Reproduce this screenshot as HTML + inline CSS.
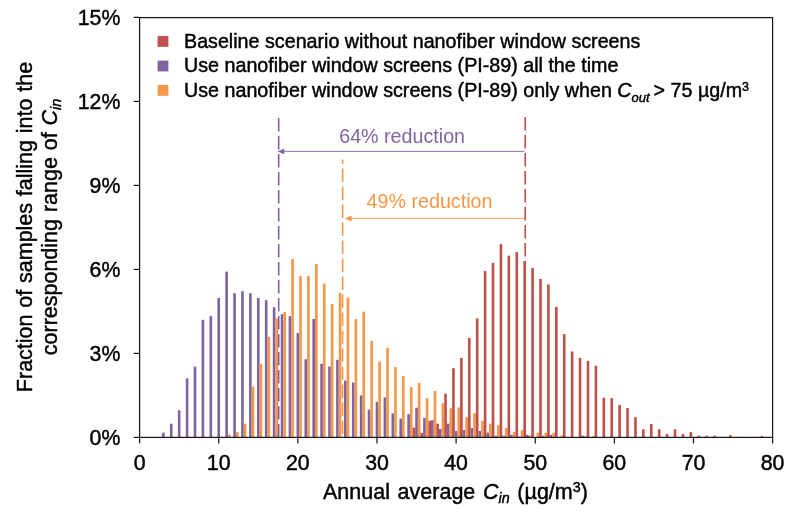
<!DOCTYPE html>
<html><head><meta charset="utf-8"><title>Chart</title>
<style>
html,body{margin:0;padding:0;background:#fff;}
svg{display:block;font-family:"Liberation Sans",Arial,sans-serif;fill:#000;}
text{stroke:#000;stroke-width:.45px;stroke-linejoin:round;}
text.p,text.o{stroke:none;}
</style></head><body>
<svg width="800" height="522" viewBox="0 0 800 522">
<rect width="800" height="522" fill="#fff"/>
<g fill="#8064A2"><rect x="162.02" y="432.64" width="2.64" height="4.76"/><rect x="169.93" y="423.68" width="2.64" height="13.72"/><rect x="177.84" y="410.24" width="2.64" height="27.16"/><rect x="185.76" y="378.32" width="2.64" height="59.08"/><rect x="193.67" y="366.56" width="2.64" height="70.84"/><rect x="201.58" y="319.80" width="2.64" height="117.60"/><rect x="209.49" y="316.16" width="2.64" height="121.24"/><rect x="217.41" y="297.96" width="2.64" height="139.44"/><rect x="225.32" y="271.64" width="2.64" height="165.76"/><rect x="233.23" y="293.20" width="2.64" height="144.20"/><rect x="241.14" y="291.24" width="2.64" height="146.16"/><rect x="249.06" y="293.20" width="2.64" height="144.20"/><rect x="256.97" y="297.96" width="2.64" height="139.44"/><rect x="264.88" y="300.20" width="2.64" height="137.20"/><rect x="272.79" y="307.20" width="2.64" height="130.20"/><rect x="280.71" y="314.20" width="2.64" height="123.20"/><rect x="288.62" y="316.16" width="2.64" height="121.24"/><rect x="296.53" y="332.96" width="2.64" height="104.44"/><rect x="304.44" y="359.28" width="2.64" height="78.12"/><rect x="312.36" y="318.96" width="2.64" height="118.44"/><rect x="320.27" y="363.76" width="2.64" height="73.64"/><rect x="328.18" y="366.56" width="2.64" height="70.84"/><rect x="336.09" y="359.84" width="2.64" height="77.56"/><rect x="344.01" y="380.56" width="2.64" height="56.84"/><rect x="351.92" y="382.52" width="2.64" height="54.88"/><rect x="359.83" y="395.40" width="2.64" height="42.00"/><rect x="367.74" y="409.68" width="2.64" height="27.72"/><rect x="375.66" y="401.84" width="2.64" height="35.56"/><rect x="383.57" y="397.36" width="2.64" height="40.04"/><rect x="391.48" y="413.32" width="2.64" height="24.08"/><rect x="399.39" y="418.64" width="2.64" height="18.76"/><rect x="407.31" y="414.16" width="2.64" height="23.24"/><rect x="415.22" y="407.72" width="2.64" height="29.68"/><rect x="423.13" y="418.08" width="2.64" height="19.32"/><rect x="431.04" y="420.04" width="2.64" height="17.36"/><rect x="438.96" y="429.00" width="2.64" height="8.40"/><rect x="446.87" y="423.68" width="2.64" height="13.72"/><rect x="454.78" y="430.96" width="2.64" height="6.44"/><rect x="462.69" y="430.12" width="2.64" height="7.28"/><rect x="470.61" y="427.88" width="2.64" height="9.52"/><rect x="478.52" y="430.96" width="2.64" height="6.44"/><rect x="486.43" y="432.64" width="2.64" height="4.76"/><rect x="494.34" y="435.72" width="2.64" height="1.68"/><rect x="502.26" y="435.72" width="2.64" height="1.68"/><rect x="510.17" y="434.88" width="2.64" height="2.52"/><rect x="518.08" y="436.56" width="2.64" height="0.84"/><rect x="525.99" y="434.88" width="2.64" height="2.52"/><rect x="541.82" y="435.72" width="2.64" height="1.68"/><rect x="549.73" y="434.88" width="2.64" height="2.52"/><rect x="581.38" y="435.72" width="2.64" height="1.68"/></g>
<g fill="#F79646"><rect x="227.96" y="434.60" width="2.64" height="2.80"/><rect x="235.87" y="432.08" width="2.64" height="5.32"/><rect x="243.78" y="423.68" width="2.64" height="13.72"/><rect x="251.69" y="386.44" width="2.64" height="50.96"/><rect x="259.61" y="363.76" width="2.64" height="73.64"/><rect x="267.52" y="336.88" width="2.64" height="100.52"/><rect x="275.43" y="318.40" width="2.64" height="119.00"/><rect x="283.34" y="311.96" width="2.64" height="125.44"/><rect x="291.26" y="259.04" width="2.64" height="178.36"/><rect x="299.17" y="275.84" width="2.64" height="161.56"/><rect x="307.08" y="275.84" width="2.64" height="161.56"/><rect x="314.99" y="264.08" width="2.64" height="173.32"/><rect x="322.91" y="283.68" width="2.64" height="153.72"/><rect x="330.82" y="303.84" width="2.64" height="133.56"/><rect x="338.73" y="292.92" width="2.64" height="144.48"/><rect x="346.64" y="297.40" width="2.64" height="140.00"/><rect x="354.56" y="318.96" width="2.64" height="118.44"/><rect x="362.47" y="311.68" width="2.64" height="125.72"/><rect x="370.38" y="340.80" width="2.64" height="96.60"/><rect x="378.29" y="361.52" width="2.64" height="75.88"/><rect x="386.21" y="347.80" width="2.64" height="89.60"/><rect x="394.12" y="367.12" width="2.64" height="70.28"/><rect x="402.03" y="376.08" width="2.64" height="61.32"/><rect x="409.94" y="387.00" width="2.64" height="50.40"/><rect x="417.86" y="382.80" width="2.64" height="54.60"/><rect x="425.77" y="398.20" width="2.64" height="39.20"/><rect x="433.68" y="390.92" width="2.64" height="46.48"/><rect x="441.59" y="403.24" width="2.64" height="34.16"/><rect x="449.51" y="408.28" width="2.64" height="29.12"/><rect x="457.42" y="407.44" width="2.64" height="29.96"/><rect x="465.33" y="417.24" width="2.64" height="20.16"/><rect x="473.24" y="413.32" width="2.64" height="24.08"/><rect x="481.16" y="420.88" width="2.64" height="16.52"/><rect x="489.07" y="423.68" width="2.64" height="13.72"/><rect x="496.98" y="425.36" width="2.64" height="12.04"/><rect x="504.89" y="427.88" width="2.64" height="9.52"/><rect x="512.81" y="431.80" width="2.64" height="5.60"/><rect x="520.72" y="430.12" width="2.64" height="7.28"/><rect x="528.63" y="435.44" width="2.64" height="1.96"/><rect x="536.54" y="432.64" width="2.64" height="4.76"/><rect x="544.46" y="432.64" width="2.64" height="4.76"/><rect x="552.37" y="432.64" width="2.64" height="4.76"/><rect x="560.28" y="435.44" width="2.64" height="1.96"/><rect x="584.02" y="436.00" width="2.64" height="1.40"/><rect x="591.93" y="436.00" width="2.64" height="1.40"/></g>
<g fill="#C0504D"><rect x="412.58" y="427.60" width="2.64" height="9.80"/><rect x="420.49" y="432.92" width="2.64" height="4.48"/><rect x="428.41" y="420.88" width="2.64" height="16.52"/><rect x="436.32" y="423.68" width="2.64" height="13.72"/><rect x="444.23" y="393.72" width="2.64" height="43.68"/><rect x="452.14" y="368.24" width="2.64" height="69.16"/><rect x="460.06" y="357.88" width="2.64" height="79.52"/><rect x="467.97" y="338.00" width="2.64" height="99.40"/><rect x="475.88" y="318.40" width="2.64" height="119.00"/><rect x="483.79" y="271.08" width="2.64" height="166.32"/><rect x="491.71" y="262.96" width="2.64" height="174.44"/><rect x="499.62" y="243.92" width="2.64" height="193.48"/><rect x="507.53" y="255.68" width="2.64" height="181.72"/><rect x="515.44" y="252.04" width="2.64" height="185.36"/><rect x="523.36" y="261.00" width="2.64" height="176.40"/><rect x="531.27" y="268.00" width="2.64" height="169.40"/><rect x="539.18" y="278.92" width="2.64" height="158.48"/><rect x="547.09" y="284.52" width="2.64" height="152.88"/><rect x="555.01" y="306.92" width="2.64" height="130.48"/><rect x="562.92" y="334.08" width="2.64" height="103.32"/><rect x="570.83" y="351.44" width="2.64" height="85.96"/><rect x="578.74" y="357.88" width="2.64" height="79.52"/><rect x="586.66" y="360.96" width="2.64" height="76.44"/><rect x="594.57" y="365.72" width="2.64" height="71.68"/><rect x="602.48" y="397.64" width="2.64" height="39.76"/><rect x="610.39" y="398.20" width="2.64" height="39.20"/><rect x="618.31" y="404.92" width="2.64" height="32.48"/><rect x="626.22" y="408.00" width="2.64" height="29.40"/><rect x="634.13" y="417.24" width="2.64" height="20.16"/><rect x="642.04" y="429.28" width="2.64" height="8.12"/><rect x="649.96" y="423.96" width="2.64" height="13.44"/><rect x="657.87" y="429.28" width="2.64" height="8.12"/><rect x="665.78" y="434.04" width="2.64" height="3.36"/><rect x="673.69" y="429.28" width="2.64" height="8.12"/><rect x="681.61" y="434.04" width="2.64" height="3.36"/><rect x="689.52" y="432.08" width="2.64" height="5.32"/><rect x="697.43" y="435.72" width="2.64" height="1.68"/><rect x="705.34" y="435.72" width="2.64" height="1.68"/><rect x="713.26" y="435.72" width="2.64" height="1.68"/><rect x="721.17" y="436.84" width="2.64" height="0.56"/><rect x="729.08" y="435.16" width="2.64" height="2.24"/><rect x="736.99" y="436.84" width="2.64" height="0.56"/><rect x="752.82" y="436.84" width="2.64" height="0.56"/><rect x="760.73" y="436.00" width="2.64" height="1.40"/></g>
<rect x="139.6" y="17.6" width="633.00" height="419.80" fill="none" stroke="#1a1a1a" stroke-width="1.25"/>
<line x1="139.60" y1="437.4" x2="139.60" y2="443.4" stroke="#1a1a1a" stroke-width="1.25"/>
<text x="139.60" y="470" text-anchor="middle" font-size="21.3">0</text>
<line x1="218.72" y1="437.4" x2="218.72" y2="443.4" stroke="#1a1a1a" stroke-width="1.25"/>
<text x="218.72" y="470" text-anchor="middle" font-size="21.3">10</text>
<line x1="297.85" y1="437.4" x2="297.85" y2="443.4" stroke="#1a1a1a" stroke-width="1.25"/>
<text x="297.85" y="470" text-anchor="middle" font-size="21.3">20</text>
<line x1="376.98" y1="437.4" x2="376.98" y2="443.4" stroke="#1a1a1a" stroke-width="1.25"/>
<text x="376.98" y="470" text-anchor="middle" font-size="21.3">30</text>
<line x1="456.10" y1="437.4" x2="456.10" y2="443.4" stroke="#1a1a1a" stroke-width="1.25"/>
<text x="456.10" y="470" text-anchor="middle" font-size="21.3">40</text>
<line x1="535.23" y1="437.4" x2="535.23" y2="443.4" stroke="#1a1a1a" stroke-width="1.25"/>
<text x="535.23" y="470" text-anchor="middle" font-size="21.3">50</text>
<line x1="614.35" y1="437.4" x2="614.35" y2="443.4" stroke="#1a1a1a" stroke-width="1.25"/>
<text x="614.35" y="470" text-anchor="middle" font-size="21.3">60</text>
<line x1="693.48" y1="437.4" x2="693.48" y2="443.4" stroke="#1a1a1a" stroke-width="1.25"/>
<text x="693.48" y="470" text-anchor="middle" font-size="21.3">70</text>
<line x1="772.60" y1="437.4" x2="772.60" y2="443.4" stroke="#1a1a1a" stroke-width="1.25"/>
<text x="772.60" y="470" text-anchor="middle" font-size="21.3">80</text>
<line x1="133.6" y1="437.40" x2="139.6" y2="437.40" stroke="#1a1a1a" stroke-width="1.25"/>
<text x="120.4" y="444.70" text-anchor="end" font-size="21.3">0%</text>
<line x1="133.6" y1="353.40" x2="139.6" y2="353.40" stroke="#1a1a1a" stroke-width="1.25"/>
<text x="120.4" y="360.70" text-anchor="end" font-size="21.3">3%</text>
<line x1="133.6" y1="269.40" x2="139.6" y2="269.40" stroke="#1a1a1a" stroke-width="1.25"/>
<text x="120.4" y="276.70" text-anchor="end" font-size="21.3">6%</text>
<line x1="133.6" y1="185.40" x2="139.6" y2="185.40" stroke="#1a1a1a" stroke-width="1.25"/>
<text x="120.4" y="192.70" text-anchor="end" font-size="21.3">9%</text>
<line x1="133.6" y1="101.40" x2="139.6" y2="101.40" stroke="#1a1a1a" stroke-width="1.25"/>
<text x="120.4" y="108.70" text-anchor="end" font-size="21.3">12%</text>
<line x1="133.6" y1="17.40" x2="139.6" y2="17.40" stroke="#1a1a1a" stroke-width="1.25"/>
<text x="120.4" y="24.70" text-anchor="end" font-size="21.3">15%</text>
<!-- dashed lines -->
<g fill="none" stroke-width="1.6" stroke-dasharray="13.4 4.6">
<line x1="278.7" y1="118" x2="278.7" y2="437" stroke="#8064A2"/>
<line x1="342.6" y1="159.6" x2="342.6" y2="437" stroke="#F79646" stroke-dashoffset="9"/>
<line x1="525.2" y1="117" x2="525.2" y2="437" stroke="#C0504D"/>
</g>
<!-- arrows -->
<line x1="283" y1="151.4" x2="524.5" y2="151.4" stroke="#8064A2" stroke-width="0.9"/>
<polygon points="277.6,151.4 284.2,148.5 284.2,154.3" fill="#8064A2"/>
<line x1="349" y1="218.4" x2="524.5" y2="218.4" stroke="#F79646" stroke-width="0.9"/>
<polygon points="344.8,218.4 351.6,215.4 351.6,221.4" fill="#F79646"/>
<text x="339.2" y="142.8" font-size="19.7" fill="#8064A2" class="p">64% reduction</text>
<text x="366.6" y="208.2" font-size="19.7" fill="#F79646" class="o">49% reduction</text>
<!-- legend -->
<rect x="157.6" y="36" width="10.8" height="10.8" fill="#C0504D"/>
<rect x="157.6" y="60.6" width="10.8" height="10.8" fill="#8064A2"/>
<rect x="157.6" y="85" width="10.8" height="10.8" fill="#F79646"/>
<g font-size="19.7">
<text x="184" y="47.7">Baseline scenario without nanofiber window screens</text>
<text x="184" y="72.2">Use nanofiber window screens (PI-89) all the time</text>
<text x="184" y="96.8">Use nanofiber window screens (PI-89) only when <tspan font-style="italic">C</tspan><tspan font-style="italic" font-size="13" dy="5">out</tspan><tspan dy="-5" dx="-1.5"> &gt; 75 µg/m</tspan><tspan font-size="12.5" dy="-5.5">3</tspan></text>
</g>
<!-- axis titles -->
<text x="323" y="498.5" font-size="21.5" word-spacing="1.7">Annual average <tspan font-style="italic">C</tspan><tspan font-style="italic" font-size="14.3" dy="4.5">in</tspan><tspan dy="-4.5"> (µg/m</tspan><tspan font-size="14.3" dy="-6.7">3</tspan><tspan dy="6.7">)</tspan></text>
<g transform="translate(0,227) rotate(-90)" font-size="21.5" text-anchor="middle">
<text x="0" y="32.2" word-spacing="0.8">Fraction of samples falling into the</text>
<text x="0" y="56.8" word-spacing="0.9">corresponding range of <tspan font-style="italic">C</tspan><tspan font-style="italic" font-size="14.3" dy="4.5">in</tspan></text>
</g>
</svg>
</body></html>
